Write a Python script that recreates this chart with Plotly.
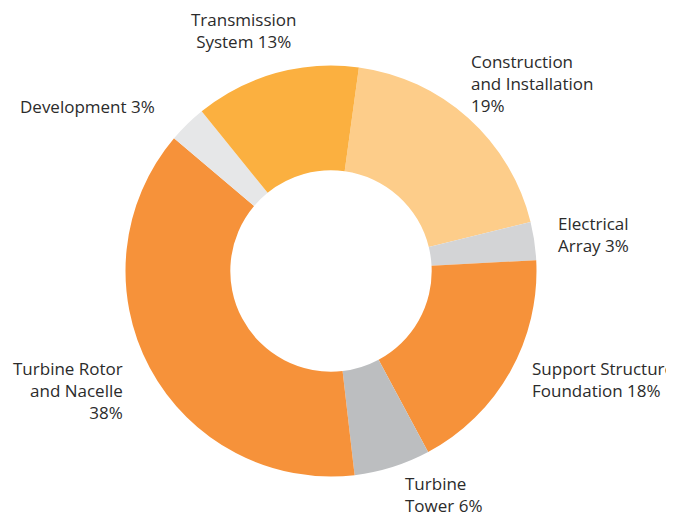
import plotly.graph_objects as go

# cost breakdown, clockwise from top
segments = ["Construction and Installation", "Electrical Array", "Support Structure Foundation",
            "Turbine Tower", "Turbine Rotor and Nacelle", "Development", "Transmission System"]
shares = [19, 3, 18, 6, 38, 3, 13]
label_text = ["Construction<br>and Installation<br>", "Electrical<br>Array ", "Support Structure<br>Foundation ",
              "Turbine<br>Tower ", "Turbine Rotor<br>and Nacelle<br>", "Development ", "Transmission<br>System "]

colors = ["#FDCD8A", "#D3D4D6", "#F6923A", "#BCBEC0", "#F6923A", "#E6E7E8", "#FBB040"]

W, H = 674, 516
OFF = 8  # page body margin pushes the plot down/right

# donut centre and radius in window pixels
cx, cy, r = 331 - OFF, 271 - OFF, 205.5

fig = go.Figure()

fig.add_trace(go.Pie(
    labels=segments,
    values=shares,
    hole=0.49,
    sort=False,
    direction="clockwise",
    rotation=7.8,
    textinfo="none",
    marker=dict(colors=colors, line=dict(width=0)),
    domain=dict(x=[(cx - r) / W, (cx + r) / W],
                y=[(H - cy - r) / H, (H - cy + r) / H]),
    showlegend=False,
))

# label placement (window pixel coords of the text block), anchor, alignment
spots = [
    (469, 83, "left"),
    (556, 234, "left"),
    (530, 379, "left"),
    (403, 494, "left"),
    (125, 390, "right"),
    (157, 106, "right"),
    (243, 31, "center"),
]

for txt, val, (px_, py_, al) in zip(label_text, shares, spots):
    fig.add_annotation(
        text=f"{txt}{val}%",
        x=(px_ - OFF) / W, y=1 - (py_ - OFF) / H,
        xref="paper", yref="paper",
        xanchor=al, yanchor="middle", align=al,
        showarrow=False,
        font=dict(family="Open Sans", size=17, color="#2b2b2b"),
    )

fig.update_layout(
    width=W, height=H,
    margin=dict(l=0, r=0, t=0, b=0),
    paper_bgcolor="white",
    plot_bgcolor="white",
)

fig.write_html("out.html")
